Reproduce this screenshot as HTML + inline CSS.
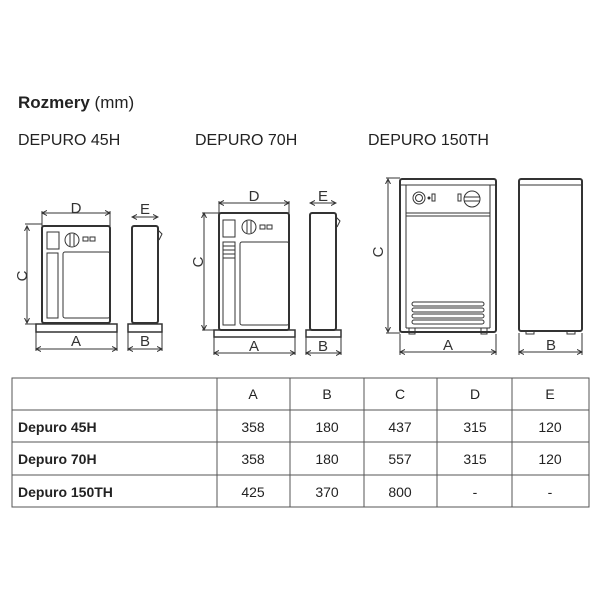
<!DOCTYPE html>
<html><head><meta charset="utf-8"><style>
body{margin:0;background:#fff;width:600px;height:600px;overflow:hidden;font-family:"Liberation Sans",sans-serif}
</style></head><body>
<svg width="600" height="600" xmlns="http://www.w3.org/2000/svg" font-family="Liberation Sans, sans-serif">
<defs><marker id="ar" markerWidth="6" markerHeight="6" refX="5" refY="3" orient="auto-start-reverse"><path d="M0,0.5 L5,3 L0,5.5" fill="none" stroke="#333" stroke-width="1"/></marker></defs>
<text x="18" y="108" font-size="17" fill="#222"><tspan font-weight="bold">Rozmery</tspan> (mm)</text>
<text x="18" y="145" font-size="16" fill="#222">DEPURO 45H</text>
<text x="195" y="145" font-size="16" fill="#222">DEPURO 70H</text>
<text x="368" y="145" font-size="16" fill="#222">DEPURO 150TH</text>
<g stroke="#333" fill="none" stroke-width="1">
<!-- 45H front -->
<rect x="42" y="226" width="68" height="97" rx="2" stroke-width="2"/>
<rect x="36" y="324" width="81" height="8" stroke-width="1.5"/>
<rect x="47" y="232" width="12" height="17"/>
<rect x="47" y="253" width="12" height="85" transform="translate(0,0)" style="display:none"/>
<rect x="47" y="253" width="11" height="65"/>
<rect x="63" y="252" width="47" height="66" rx="2"/>
<circle cx="72" cy="240" r="7"/><line x1="70" y1="234" x2="70" y2="246"/><line x1="74" y1="234" x2="74" y2="246"/>
<rect x="83" y="237" width="5" height="4"/><rect x="90" y="237" width="5" height="4"/>
<line x1="42" y1="213" x2="110" y2="213" marker-start="url(#ar)" marker-end="url(#ar)"/>
<line x1="42" y1="211" x2="42" y2="226"/><line x1="110" y1="211" x2="110" y2="226"/>
<line x1="27" y1="226" x2="27" y2="323" marker-start="url(#ar)" marker-end="url(#ar)"/>
<line x1="25" y1="224" x2="42" y2="224"/><line x1="25" y1="324" x2="40" y2="324"/>
<line x1="36" y1="332" x2="36" y2="351"/><line x1="117" y1="332" x2="117" y2="351"/>
<line x1="36" y1="349" x2="117" y2="349" marker-start="url(#ar)" marker-end="url(#ar)"/>
<!-- 45H side -->
<rect x="132" y="226" width="26" height="97" rx="2" stroke-width="2"/>
<path d="M158 230 L162 234 L159 240"/>
<rect x="128" y="324" width="34" height="8" stroke-width="1.5"/>
<line x1="132" y1="217" x2="158" y2="217" marker-start="url(#ar)" marker-end="url(#ar)"/>
<line x1="128" y1="332" x2="128" y2="351"/><line x1="162" y1="332" x2="162" y2="351"/>
<line x1="128" y1="349" x2="162" y2="349" marker-start="url(#ar)" marker-end="url(#ar)"/>
<!-- 70H front -->
<rect x="219" y="213" width="70" height="117" rx="2" stroke-width="2"/>
<rect x="214" y="330" width="81" height="7" stroke-width="1.5"/>
<rect x="223" y="220" width="12" height="17"/>
<rect x="223" y="242" width="12" height="83"/>
<line x1="223" y1="246" x2="235" y2="246"/><line x1="223" y1="250" x2="235" y2="250"/><line x1="223" y1="254" x2="235" y2="254"/><line x1="223" y1="258" x2="235" y2="258"/>
<rect x="240" y="242" width="49" height="83" rx="2"/>
<circle cx="249" cy="227" r="7"/><line x1="247" y1="221" x2="247" y2="233"/><line x1="251" y1="221" x2="251" y2="233"/>
<rect x="260" y="225" width="5" height="4"/><rect x="267" y="225" width="5" height="4"/>
<line x1="219" y1="203" x2="289" y2="203" marker-start="url(#ar)" marker-end="url(#ar)"/>
<line x1="219" y1="201" x2="219" y2="213"/><line x1="289" y1="201" x2="289" y2="213"/>
<line x1="204" y1="213" x2="204" y2="330" marker-start="url(#ar)" marker-end="url(#ar)"/>
<line x1="202" y1="213" x2="219" y2="213"/><line x1="202" y1="330" x2="216" y2="330"/>
<line x1="214" y1="337" x2="214" y2="355"/><line x1="295" y1="337" x2="295" y2="355"/>
<line x1="214" y1="353" x2="295" y2="353" marker-start="url(#ar)" marker-end="url(#ar)"/>
<!-- 70H side -->
<rect x="310" y="213" width="26" height="117" rx="2" stroke-width="2"/>
<path d="M336 217 L340 221 L337 227"/>
<rect x="306" y="330" width="35" height="7" stroke-width="1.5"/>
<line x1="310" y1="203" x2="336" y2="203" marker-start="url(#ar)" marker-end="url(#ar)"/>
<line x1="306" y1="337" x2="306" y2="355"/><line x1="341" y1="337" x2="341" y2="355"/>
<line x1="306" y1="353" x2="341" y2="353" marker-start="url(#ar)" marker-end="url(#ar)"/>
<!-- 150TH front -->
<rect x="400" y="179" width="96" height="153" rx="2" stroke-width="2"/>
<line x1="400" y1="185" x2="496" y2="185"/>
<line x1="406" y1="185" x2="406" y2="328"/><line x1="490" y1="185" x2="490" y2="328"/>
<line x1="406" y1="213" x2="490" y2="213"/><line x1="406" y1="216" x2="490" y2="216"/>
<line x1="406" y1="328" x2="490" y2="328"/>
<circle cx="419" cy="198" r="6"/><circle cx="419" cy="198" r="3.5"/>
<circle cx="429" cy="198" r="1" fill="#333"/><rect x="432" y="194" width="3" height="7"/>
<rect x="458" y="194" width="3" height="7"/>
<circle cx="472" cy="199" r="8"/><line x1="464" y1="197" x2="480" y2="197"/><line x1="464" y1="201" x2="480" y2="201"/>
<rect x="412" y="302" width="72" height="4" rx="2"/><rect x="412" y="308" width="72" height="4" rx="2"/><rect x="412" y="314" width="72" height="4" rx="2"/><rect x="412" y="320" width="72" height="4" rx="2"/>
<rect x="409" y="328" width="6" height="6"/><rect x="481" y="328" width="6" height="6"/>
<line x1="388" y1="179" x2="388" y2="332" marker-start="url(#ar)" marker-end="url(#ar)"/>
<line x1="386" y1="178" x2="400" y2="178"/><line x1="386" y1="333" x2="400" y2="333"/>
<line x1="400" y1="334" x2="400" y2="355"/><line x1="496" y1="334" x2="496" y2="355"/>
<line x1="400" y1="352" x2="496" y2="352" marker-start="url(#ar)" marker-end="url(#ar)"/>
<!-- 150TH side -->
<rect x="519" y="179" width="63" height="152" rx="2" stroke-width="2"/>
<line x1="519" y1="185" x2="582" y2="185"/>
<rect x="526" y="331" width="8" height="3"/><rect x="567" y="331" width="8" height="3"/>
<line x1="519" y1="333" x2="519" y2="355"/><line x1="582" y1="333" x2="582" y2="355"/>
<line x1="519" y1="352" x2="582" y2="352" marker-start="url(#ar)" marker-end="url(#ar)"/>
</g>
<g font-size="15" fill="#333" text-anchor="middle">
<text x="76" y="213">D</text><text x="145" y="214">E</text>
<text x="22" y="276" transform="rotate(-90 22 276)" dy="5">C</text>
<text x="76" y="346">A</text><text x="145" y="346">B</text>
<text x="254" y="201">D</text><text x="323" y="201">E</text>
<text x="198" y="262" transform="rotate(-90 198 262)" dy="5">C</text>
<text x="254" y="351">A</text><text x="323" y="351">B</text>
<text x="378" y="252" transform="rotate(-90 378 252)" dy="5">C</text>
<text x="448" y="350">A</text><text x="551" y="350">B</text>
</g>
<g stroke="#555" stroke-width="1" fill="none">
<rect x="12" y="378" width="577" height="129"/>
<line x1="12" y1="410" x2="589" y2="410"/><line x1="12" y1="442" x2="589" y2="442"/><line x1="12" y1="475" x2="589" y2="475"/>
<line x1="217" y1="378" x2="217" y2="507"/><line x1="290" y1="378" x2="290" y2="507"/><line x1="364" y1="378" x2="364" y2="507"/><line x1="437" y1="378" x2="437" y2="507"/><line x1="512" y1="378" x2="512" y2="507"/>
</g>
<g font-size="14" fill="#222">
<text x="18" y="432" font-weight="bold">Depuro 45H</text>
<text x="18" y="464" font-weight="bold">Depuro 70H</text>
<text x="18" y="497" font-weight="bold">Depuro 150TH</text>
<g text-anchor="middle">
<text x="253" y="399">A</text><text x="327" y="399">B</text><text x="400" y="399">C</text><text x="475" y="399">D</text><text x="550" y="399">E</text>
<text x="253" y="432">358</text><text x="327" y="432">180</text><text x="400" y="432">437</text><text x="475" y="432">315</text><text x="550" y="432">120</text>
<text x="253" y="464">358</text><text x="327" y="464">180</text><text x="400" y="464">557</text><text x="475" y="464">315</text><text x="550" y="464">120</text>
<text x="253" y="497">425</text><text x="327" y="497">370</text><text x="400" y="497">800</text><text x="475" y="497">-</text><text x="550" y="497">-</text>
</g></g>
</svg>
</body></html>
